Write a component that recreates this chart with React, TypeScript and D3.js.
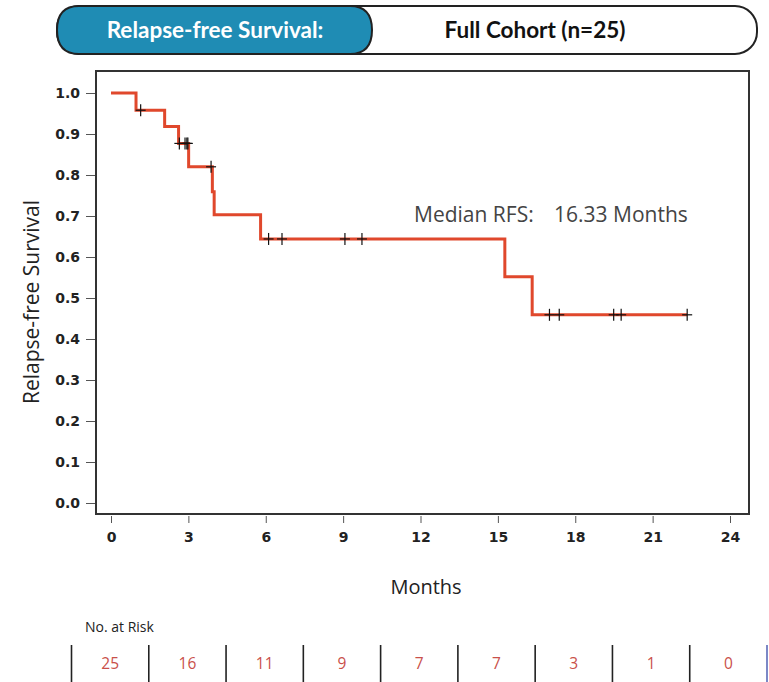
import React, { useEffect, useRef } from 'react';
import * as d3 from 'd3';

// KM step points (months, survival)
const stepTimes = [0, 0.97, 2.08, 2.62, 3.01, 3.93, 4.0, 5.8, 15.27, 16.33, 22.34];
const stepSurv = [1.0, 0.958, 0.918, 0.877, 0.82, 0.759, 0.703, 0.644, 0.552, 0.459, 0.459];

// censored observations (months)
const censorTimes = [1.15, 2.65, 2.87, 2.94, 2.98, 3.88, 6.11, 6.63, 9.07, 9.73, 17.0, 17.38, 19.49, 19.78, 22.34];

const xTicks = [0, 3, 6, 9, 12, 15, 18, 21, 24];
const yTicks = [0, 0.1, 0.2, 0.3, 0.4, 0.5, 0.6, 0.7, 0.8, 0.9, 1.0];

const riskTimes = [0, 3, 6, 9, 12, 15, 18, 21, 24];
const riskCounts = [25, 16, 11, 9, 7, 7, 3, 1, 0];

const lato = 'Lato, "Open Sans", sans-serif';
const sans = '"Open Sans", Lato, sans-serif';
const tickFont = '"DejaVu Sans", "Liberation Sans", sans-serif';

export default function App() {
  const ref = useRef<SVGSVGElement>(null);

  useEffect(() => {
    const svg = d3.select(ref.current);
    svg.selectAll('*').remove();

    // header pill
    const hdr = svg.append('g');
    hdr.append('rect')
      .attr('x', 57).attr('y', 6).attr('width', 700).attr('height', 48)
      .attr('rx', 22).attr('fill', '#fff').attr('stroke', '#222').attr('stroke-width', 2);
    hdr.append('path')
      .attr('d', 'M79,6 L350,6 Q372,6 372,30 Q372,54 350,54 L79,54 Q57,54 57,30 Q57,6 79,6 Z')
      .attr('fill', '#1f8cb4').attr('stroke', '#222').attr('stroke-width', 2);
    hdr.append('text')
      .attr('x', 215).attr('y', 38).attr('text-anchor', 'middle')
      .attr('fill', '#fff').attr('font-family', lato).attr('font-weight', 'bold')
      .attr('font-size', 22.5).text('Relapse-free Survival:');
    hdr.append('text')
      .attr('x', 535).attr('y', 38).attr('text-anchor', 'middle')
      .attr('fill', '#111').attr('font-family', lato).attr('font-weight', 'bold')
      .attr('font-size', 22.5).text('Full Cohort (n=25)');

    const x = d3.scaleLinear().domain([0, 24]).range([111, 730]);
    const y = d3.scaleLinear().domain([0, 1]).range([503, 93]);

    // plot frame
    svg.append('rect')
      .attr('x', 96).attr('y', 71).attr('width', 653).attr('height', 443)
      .attr('fill', 'none').attr('stroke', '#333').attr('stroke-width', 2);

    // x axis
    const xa = svg.append('g')
      .attr('transform', 'translate(0,516)')
      .call(d3.axisBottom(x).tickValues(xTicks).tickSize(7).tickPadding(9).tickFormat(d3.format('d')));
    xa.select('.domain').remove();
    xa.selectAll('line').attr('stroke', '#555');
    xa.selectAll('text').attr('font-family', tickFont).attr('font-weight', 'bold')
      .attr('font-size', 14).attr('fill', '#222');

    // y axis
    const ya = svg.append('g')
      .attr('transform', 'translate(95,0)')
      .call(d3.axisLeft(y).tickValues(yTicks).tickSize(9).tickPadding(6).tickFormat(d3.format('.1f')));
    ya.select('.domain').remove();
    ya.selectAll('line').attr('stroke', '#555');
    ya.selectAll('text').attr('font-family', tickFont).attr('font-weight', 'bold')
      .attr('font-size', 14).attr('fill', '#222');

    // survival curve
    const pts = stepTimes.map((t, i) => [t, stepSurv[i]] as [number, number]);
    const line = d3.line<[number, number]>()
      .x(d => x(d[0])).y(d => y(d[1]))
      .curve(d3.curveStepAfter);
    svg.append('path')
      .attr('d', line(pts))
      .attr('fill', 'none').attr('stroke', '#e0482c').attr('stroke-width', 3);

    // censor marks
    const survAt = (t: number) => {
      let s = 1;
      stepTimes.forEach((st, i) => { if (st <= t) s = stepSurv[i]; });
      return s;
    };
    const cg = svg.append('g').attr('stroke', '#111').attr('stroke-width', 1.2);
    censorTimes.forEach(t => {
      const cx = x(t), cy = y(survAt(t));
      cg.append('line').attr('x1', cx - 5).attr('x2', cx + 5).attr('y1', cy).attr('y2', cy);
      cg.append('line').attr('x1', cx).attr('x2', cx).attr('y1', cy - 6).attr('y2', cy + 6);
    });

    // median annotation
    svg.append('text')
      .attr('x', 414).attr('y', 222).attr('font-family', sans).attr('font-size', 21)
      .attr('fill', '#444').text('Median RFS:');
    svg.append('text')
      .attr('x', 554).attr('y', 222).attr('font-family', sans).attr('font-size', 21)
      .attr('fill', '#444').text('16.33 Months');

    // axis titles
    svg.append('text')
      .attr('transform', 'translate(39,302) rotate(-90)')
      .attr('text-anchor', 'middle').attr('font-family', sans).attr('font-size', 21)
      .attr('fill', '#222').text('Relapse-free Survival');
    svg.append('text')
      .attr('x', 426).attr('y', 594).attr('text-anchor', 'middle')
      .attr('font-family', sans).attr('font-size', 20).attr('fill', '#222').text('Months');

    // number at risk table
    svg.append('text')
      .attr('x', 85).attr('y', 632).attr('font-family', sans).attr('font-size', 14)
      .attr('fill', '#222').text('No. at Risk');
    const band = d3.scaleBand<number>().domain(riskTimes).range([71.5, 767]);
    const rg = svg.append('g');
    riskTimes.forEach((t, i) => {
      rg.append('line')
        .attr('x1', band(t)!).attr('x2', band(t)!).attr('y1', 645).attr('y2', 682)
        .attr('stroke', '#222').attr('stroke-width', 1.6);
      rg.append('text')
        .attr('x', band(t)! + band.bandwidth() / 2).attr('y', 669)
        .attr('text-anchor', 'middle').attr('font-family', sans).attr('font-size', 15.5)
        .attr('fill', '#c9504a').text(riskCounts[i]);
    });
    rg.append('line')
      .attr('x1', 767).attr('x2', 767).attr('y1', 645).attr('y2', 682)
      .attr('stroke', '#5a6ab8').attr('stroke-width', 1.6);
  }, []);

  return (
    <svg ref={ref} width={769} height={682}
      style={{ position: 'absolute', left: 0, top: 0, background: '#fff' }} />
  );
}
